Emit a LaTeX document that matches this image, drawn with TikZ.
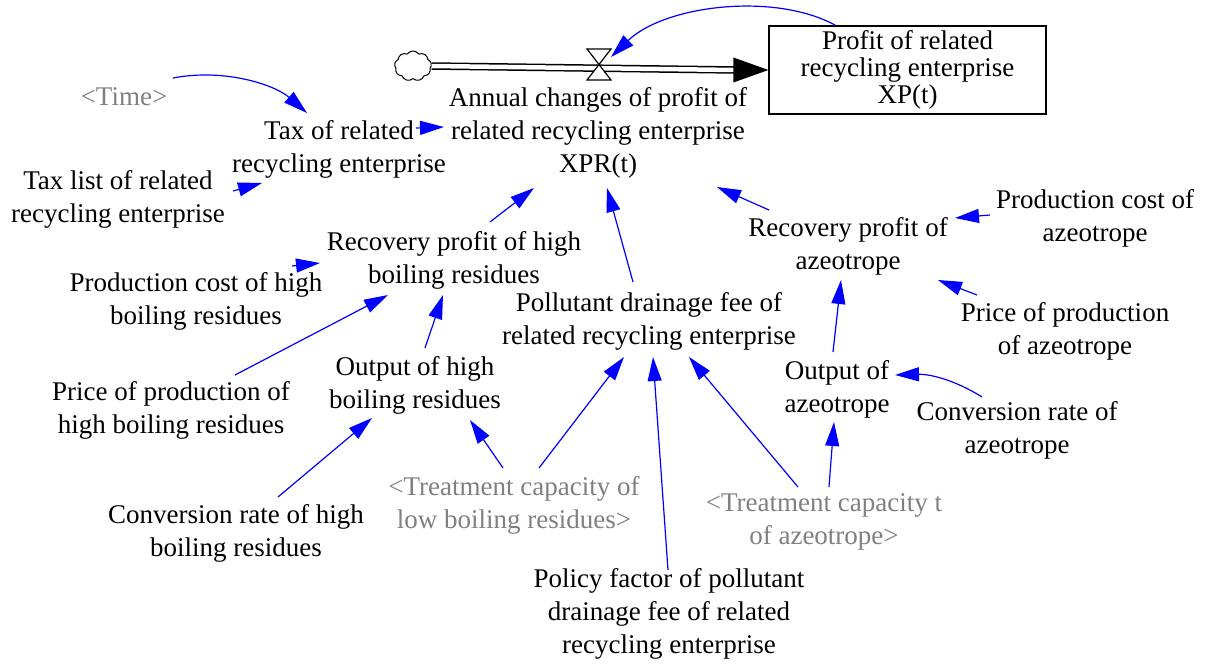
\documentclass[tikz,border=0pt]{standalone}
\usepackage{fontspec}
\newfontfamily\tnr{Liberation Serif}
\usetikzlibrary{arrows.meta,calc,shapes.symbols}
\definecolor{vblue}{RGB}{0,0,255}
\definecolor{vgray}{RGB}{128,128,128}
\begin{document}
\begin{tikzpicture}[x=1pt,y=-1pt,
  lbl/.style={align=center,inner sep=0pt,font=\tnr\fontsize{27}{33}\selectfont},
  glbl/.style={lbl,text=vgray},
  arr/.style={draw=vblue,line width=1.2pt,-{Triangle[length=24pt,width=14pt]}},
  stockbox/.style={draw,line width=1.3pt,minimum width=277pt,minimum height=88pt,align=center,inner sep=0pt,font=\tnr\fontsize{27}{27}\selectfont},
  pipe/.style={line width=1.5pt,double=white,double distance=4.5pt},
  valveshape/.style={draw,fill=white,line width=1.2pt},
  cloudshape/.style={cloud,draw,cloud puffs=9,cloud puff arc=110,minimum width=37pt,minimum height=30pt,aspect=1.2,inner sep=0pt,line width=1pt}]
\useasboundingbox[fill=white] (0,0) rectangle (1210,664);

% stock and flow
\node[cloudshape] (cloud) at (413,66) {};
\node[stockbox] (stock) at (907.5,70) {Profit of related\\recycling enterprise\\XP(t)};
\coordinate (valve) at (599,65);
\draw[pipe] (cloud.east) -- ($(stock.west)+(-33,0)$);
\fill ($(stock.west)+(-35,-12.5)$) -- (stock.west) -- ($(stock.west)+(-35,12.5)$) -- cycle;
\draw[valveshape] ($(valve)+(-12,-16)$) -- ($(valve)+(12,-16)$) -- ($(valve)+(-12,15)$) -- ($(valve)+(12,15)$) -- cycle;

% variables
\node[lbl] (flow) at (598,133) {Annual changes of profit of\\related recycling enterprise\\XPR(t)};
\node[glbl] (time) at (124,97) {<Time>};
\node[lbl] (tax) at (339,149) {Tax of related\\recycling enterprise};
\node[lbl] (taxlist) at (118,199) {Tax list of related\\recycling enterprise};
\node[lbl] (rph) at (454,260) {Recovery profit of high\\boiling residues};
\node[lbl] (pch) at (196,301) {Production cost of high\\boiling residues};
\node[lbl] (pph) at (171,410) {Price of production of\\high boiling residues};
\node[lbl] (oh) at (415,385) {Output of high\\boiling residues};
\node[lbl] (ch) at (236,533) {Conversion rate of high\\boiling residues};
\node[glbl] (tlow) at (514,505) {<Treatment capacity of\\low boiling residues>};
\node[lbl] (poll) at (649,321) {Pollutant drainage fee of\\related recycling enterprise};
\node[lbl] (policy) at (669,614) {Policy factor of pollutant\\drainage fee of related\\recycling enterprise};
\node[glbl] (tazeo) at (824,522) {<Treatment capacity t\\of azeotrope>};
\node[lbl] (oa) at (837,389) {Output of\\azeotrope};
\node[lbl] (ca) at (1017,430) {Conversion rate of\\azeotrope};
\node[lbl] (ra) at (848,246) {Recovery profit of\\azeotrope};
\node[lbl] (pca) at (1095,218) {Production cost of\\azeotrope};
\node[lbl] (ppa) at (1065,331) {Price of production\\of azeotrope};

% connectors
\draw[arr] ($(stock.north)+(-72,0)$) .. controls (775,-8) and (665,5) .. ($(valve)+(12,-8)$);
\draw[arr] ($(time)+(49,-19)$) .. controls (225,68) and (275,85) .. ($(tax)+(-32,-36)$);
\draw[arr] ($(tax)+(77,-21)$) -- ($(flow)+(-154,-6)$);
\draw[arr] ($(taxlist)+(115,-8)$) -- ($(tax)+(-77,34)$);
\draw[arr] ($(rph)+(36,-38)$) -- ($(flow)+(-64,55)$);
\draw[arr] ($(pch)+(96,-35)$) -- ($(rph)+(-134,3)$);
\draw[arr] ($(pph)+(64,-35)$) -- ($(rph)+(-66,35)$);
\draw[arr] ($(oh)+(10,-37)$) -- ($(rph)+(-11,35)$);
\draw[arr] ($(ch)+(42,-36)$) -- ($(oh)+(-43,33)$);
\draw[arr] ($(tlow)+(-11,-37)$) -- ($(oh)+(55,35)$);
\draw[arr] ($(tlow)+(25,-37)$) -- ($(poll)+(-25,36)$);
\draw[arr] ($(policy)+(-1,-44)$) -- ($(poll)+(4,36)$);
\draw[arr] ($(tazeo)+(-26,-35)$) -- ($(poll)+(40,36)$);
\draw[arr] ($(tazeo)+(5,-35)$) -- ($(oa)+(-3,33)$);
\draw[arr] ($(oa)+(-4,-37)$) -- ($(ra)+(-7,34)$);
\draw[arr] ($(poll)+(-16,-39)$) -- ($(flow)+(9,55)$);
\draw[arr] ($(ra)+(-79,-36)$) -- ($(flow)+(119,54)$);
\draw[arr] ($(pca)+(-105,-3)$) -- ($(ra)+(107,-28)$);
\draw[arr] ($(ppa)+(-88,-36)$) -- ($(ra)+(90,34)$);
\draw[arr] ($(ca)+(-35,-33)$) .. controls (955,380) and (930,374) .. ($(oa)+(58,-14)$);
\end{tikzpicture}
\end{document}
